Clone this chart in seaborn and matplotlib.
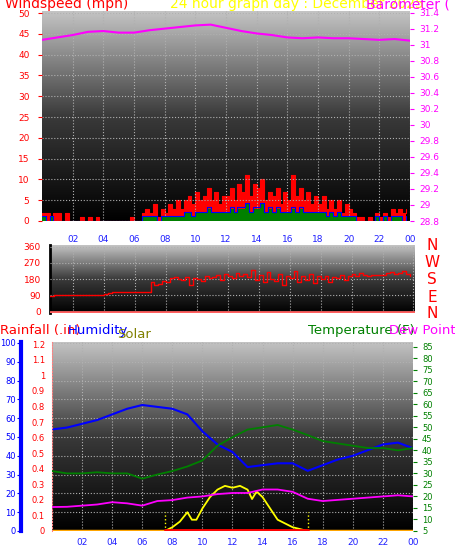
import numpy as np
import pandas as pd
import matplotlib
matplotlib.use("Agg")
import matplotlib.pyplot as plt
import seaborn as sns
from matplotlib.colors import LinearSegmentedColormap

sns.set_style("white")
plt.rcParams['font.family'] = ['DejaVu Sans']

# ---------------- data ----------------
hours = list(range(25))
barometer = [31.06, 31.09, 31.12, 31.16, 31.17, 31.15, 31.15, 31.18, 31.20, 31.22, 31.24, 31.25, 31.21,
             31.17, 31.14, 31.12, 31.09, 31.08, 31.09, 31.08, 31.08, 31.07, 31.06, 31.07, 31.05]
gust = [2,2,0,2, 2,0,2,0, 0,0,1,0, 1,0,1,0, 0,0,0,0, 0,0,0,1, 0,0,2,3, 2,4,1,3,
        2,4,3,5, 3,5,6,4, 7,5,6,8, 5,7,4,6, 6,8,5,9, 7,11,6,9, 8,10,5,7, 6,8,4,7,
        5,11,6,8, 5,7,4,6, 4,6,3,5, 3,5,2,4, 3,2,1,1, 0,1,0,2, 1,2,1,3, 2,3,2,3]
avgwind = [1,0,1,0, 0,0,0,0, 0,0,0,0, 0,0,0,0, 0,0,0,0, 0,0,0,0, 0,0,1,1, 1,1,0,1,
           1,1,1,1, 1,2,2,1, 2,2,2,3, 2,2,2,2, 2,3,2,3, 3,4,2,3, 3,4,2,3, 2,3,2,2,
           2,3,2,3, 2,2,2,2, 2,2,1,2, 1,2,1,1, 1,1,0,0, 0,0,0,1, 0,1,0,1, 1,1,0,1]
direction = [75,85,88,90, 90,90,90,90, 90,90,90,90, 90,90,90,90, 95,105,110,110, 110,110,110,110,
             110,110,110,110, 165,150,155,170, 165,185,190,180, 175,190,150,185, 180,170,200,185,
             190,205,175,210, 195,185,215,200, 210,190,230,175, 205,165,220,180, 170,210,150,200,
             185,225,165,200, 175,210,160,195, 180,200,165,190, 185,205,175,200, 210,195,215,205,
             200,205,205,205, 205,215,220,210, 215,225,210,195]
humidity = [54, 55, 57, 59, 62, 65, 67, 66, 65, 62, 53, 46, 42, 34, 35, 36, 36, 32, 35, 38, 40, 43, 46, 47, 44]
temperature = [31, 30, 30, 30.5, 30, 30, 27.7, 29.5, 31, 33, 35.6, 42, 45.7, 49, 50, 51, 49, 46.6, 44, 43, 42, 41, 41, 40, 41]
dewpoint = [15.4, 15.5, 16, 16.5, 17.5, 17, 16, 18, 18.4, 19.5, 20, 21, 21.5, 21.5, 23, 23, 22, 19, 18, 18.5, 19, 19.5, 20, 20.5, 20]
solar_t = [7.5, 8, 8.5, 9, 9.3, 9.6, 10, 10.5, 11, 11.5, 12, 12.5, 13, 13.3, 13.6, 14, 14.5, 15, 15.5, 16, 16.5, 17]
solar = [0, 2, 5, 10, 6, 6, 12, 18, 22, 24, 23, 24, 22, 17, 21, 18, 12, 6, 4, 2, 1, 0]
xtick_labels = ["02", "04", "06", "08", "10", "12", "14", "16", "18", "20", "22", "00"]

W, H = 456, 547
fig = plt.figure(figsize=(W/100, H/100), dpi=100, facecolor='white')
def axpx(l, t, r, b):
    return fig.add_axes([l/W, 1-b/H, (r-l)/W, (b-t)/H])

cmap = LinearSegmentedColormap.from_list('g', ['#000000', '#3a3a3a', '#c4c4c4'])
def background(ax):
    grad = np.linspace(0, 1, 256).reshape(-1, 1)
    ax.imshow(grad, extent=[0, 1, 0, 1], transform=ax.transAxes, aspect='auto',
              cmap=cmap, origin='lower', zorder=0)
    ax.grid(True, color='#b0b0b0', linestyle=':', linewidth=0.8, zorder=1)
    ax.set_axisbelow(False)
    for s in ax.spines.values():
        s.set_visible(False)

q = np.arange(96) * 0.25

# ---------------- top panel ----------------
ax1 = axpx(42, 11, 410, 221)
background(ax1)
ax1.fill_between(q, gust, step='post', color='#ff0000', zorder=2, linewidth=0)
ax1.step(q, gust, where='post', color='#ff0000', lw=0.8, zorder=2)
ax1.fill_between(q, avgwind, step='post', color='#008000', zorder=3, linewidth=0)
ax1.step(q, np.array(avgwind) * 1.1, where='post', color='#0000ff', lw=0.8, zorder=3)
ax1.set_xlim(0, 24)
ax1.set_ylim(0, 50.5)
ax1.set_yticks(range(0, 51, 5))
ax1.set_xticks(range(2, 25, 2))
ax1.set_xticklabels(xtick_labels)
ax1.tick_params(axis='y', colors='red', labelsize=6.5, length=3, pad=6)
ax1.tick_params(axis='x', colors='#2020ff', labelsize=6.5, length=3, pad=7)
ax1b = ax1.twinx()
for s in ax1b.spines.values():
    s.set_visible(False)
sns.lineplot(x=hours, y=barometer, ax=ax1b, color='#ff00ff', lw=1.5, zorder=4)
ax1b.set_ylim(28.8, 31.42)
ax1b.set_yticks(np.round(np.arange(28.8, 31.41, 0.2), 1))
ax1b.set_yticklabels([f"{v:g}" for v in np.round(np.arange(28.8, 31.41, 0.2), 1)])
ax1b.tick_params(axis='y', colors='#ff00ff', labelsize=6.5, length=3)
ax1b.set_ylabel('')

fig.text(5/W, 1-11/H, "Windspeed (mph)", color='red', fontsize=10, va='bottom')
fig.text(170/W, 1-11/H, "24 hour graph day : December 2025", color='yellow', fontsize=10, va='bottom')
fig.text(366/W, 1-11/H, "Barometer ( in)", color='#ff00ff', fontsize=10, va='bottom')

# ---------------- middle panel ----------------
ax2 = axpx(50, 245, 415, 313)
background(ax2)
ax2.step(q, direction, where='post', color='#ff0000', lw=1, zorder=3)
ax2.axhline(0, color='#ff6060', lw=2, zorder=3)
ax2.set_xlim(0.5, 24.1)
ax2.set_ylim(-8, 370)
ax2.set_yticks([0, 90, 180, 270, 360])
ax2.set_xticks(range(2, 25, 2))
ax2.set_xticklabels([])
ax2.tick_params(axis='y', colors='red', labelsize=6.5, length=3)
ax2.spines['left'].set_visible(True)
ax2.spines['left'].set_color('black')
ax2.spines['left'].set_linewidth(2)
for i, c in enumerate(["N", "W", "S", "E", "N"]):
    fig.text(432/W, 1-(246 + i*17)/H, c, color='red', fontsize=11, ha='center', va='center')

# ---------------- bottom panel ----------------
ax3 = axpx(52, 342, 413, 531)
background(ax3)
sns.lineplot(x=hours, y=humidity, ax=ax3, color='#0000ff', lw=1.5, zorder=4)
sol = ax3.twinx()
sol.set_ylim(0, 100.5)
sol.axis('off')
sns.lineplot(x=solar_t, y=solar, ax=sol, color='yellow', lw=1.3, zorder=5)
sol.vlines([7.5, 17], 0, 10, colors='yellow', linestyles=':', lw=1)
sol.axhline(0, color='orange', lw=2.5, zorder=6)
sol.plot([7.5, 17], [0.3, 0.3], color='red', lw=2, zorder=7)
ax3.set_xlim(0, 24)
ax3.set_ylim(0, 100.5)
ax3.set_yticks(range(0, 101, 10))
ax3.set_xticks(range(2, 25, 2))
ax3.set_xticklabels(xtick_labels)
ax3.set_xlabel(''); ax3.set_ylabel('')
ax3.spines['left'].set_visible(True)
ax3.spines['left'].set_position(('outward', 22))
ax3.spines['left'].set_color('#0000ff')
ax3.spines['left'].set_linewidth(3)
ax3.tick_params(axis='y', colors='#0000ff', labelsize=6, length=3, pad=1)
ax3.tick_params(axis='x', colors='#2020ff', labelsize=6.5, length=3, pad=2)

rain = fig.add_axes(ax3.get_position())
rain.patch.set_visible(False)
rain.set_xlim(0, 24)
rain.set_xticks([])
rain.set_ylim(0, 1.215)
rain.set_yticks(np.round(np.arange(0, 1.21, 0.1), 1))
rain.set_yticklabels([f"{v:g}" for v in np.round(np.arange(0, 1.21, 0.1), 1)])
rain.tick_params(axis='y', colors='red', labelsize=6, length=3, pad=2)
for s in ["top", "right", "bottom"]:
    rain.spines[s].set_visible(False)
rain.spines['left'].set_color('#ff8080')
rain.spines['left'].set_linestyle(':')

temp = ax3.twinx()
for s in temp.spines.values():
    s.set_visible(False)
sns.lineplot(x=hours, y=temperature, ax=temp, color='#008000', lw=1.3, zorder=4)
sns.lineplot(x=hours, y=dewpoint, ax=temp, color='#ff00ff', lw=1.3, zorder=4)
temp.set_ylim(5, 87)
temp.set_yticks(range(5, 86, 5))
temp.tick_params(axis='y', colors='#008000', labelsize=6, length=3)
temp.set_ylabel('')

fig.text(0/W, 1-337/H, "Rainfall (.in)", color='red', fontsize=9.5, va='bottom')
fig.text(68/W, 1-337/H, "Humidity", color='#0000ff', fontsize=9.5, va='bottom')
fig.text(117/W, 1-341/H, "Solar", color='#808000', fontsize=9.5, va='bottom')
fig.text(308/W, 1-337/H, "Temperature (F)", color='#008000', fontsize=9.5, va='bottom')
fig.text(389/W, 1-337/H, "Dew Point (", color='#ff00ff', fontsize=9.5, va='bottom')

fig.savefig("out.png", dpi=100, facecolor='white')
